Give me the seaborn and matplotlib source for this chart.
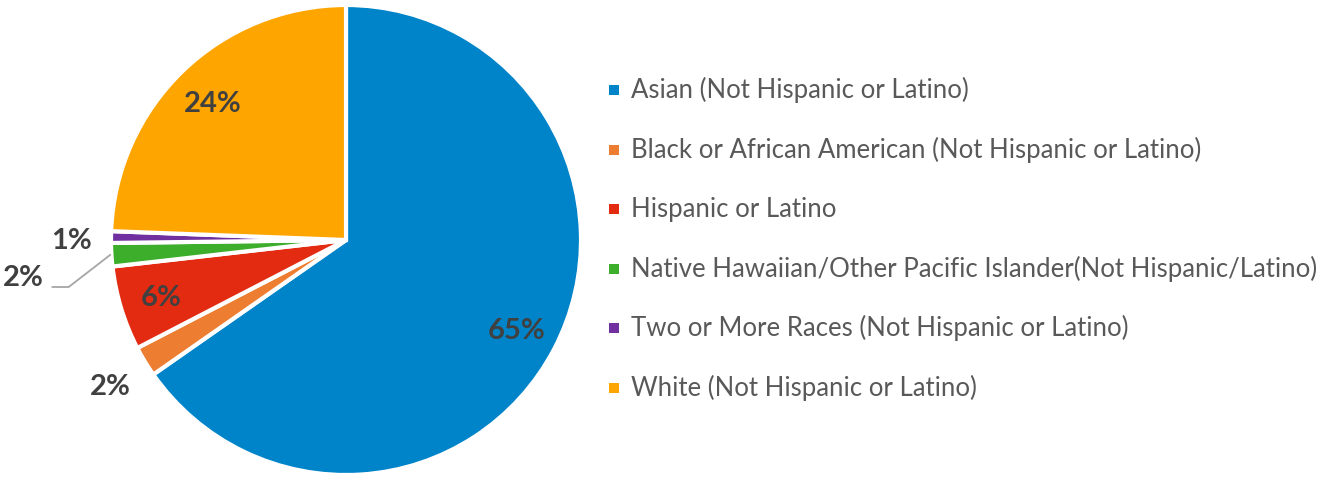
import numpy as np
import matplotlib
matplotlib.use("Agg")
import matplotlib.pyplot as plt
from matplotlib.patches import Rectangle
import seaborn as sns

categories = [
    "Asian (Not Hispanic or Latino)",
    "Black or African American (Not Hispanic or Latino)",
    "Hispanic or Latino",
    "Native Hawaiian/Other Pacific Islander(Not Hispanic/Latino)",
    "Two or More Races (Not Hispanic or Latino)",
    "White (Not Hispanic or Latino)",
]
values = [65.3, 2.1, 5.8, 1.6, 0.8, 24.4]
colors = ["#0084C9", "#ED7D31", "#E32B12", "#3DAE2B", "#7030A0", "#FFA500"]

sns.set_theme(style="white")
plt.rcParams["font.family"] = ["Lato", "DejaVu Sans"]

W, H = 1323, 479
fig = plt.figure(figsize=(W / 100, H / 100), dpi=100)
cx, cy, R = 346, 240, 235
ax = fig.add_axes([(cx - R) / W, (H - cy - R) / H, 2 * R / W, 2 * R / H])
palette = sns.color_palette(colors)
wedges, _ = ax.pie(values, colors=palette, startangle=90, counterclock=False,
                   radius=1.0, wedgeprops=dict(edgecolor="white", linewidth=3))
ax.set_xlim(-1, 1)
ax.set_ylim(-1, 1)
ax.set_aspect("equal")
ax.axis("off")

lab_color = "#404040"
fs = 21
for i, w in enumerate(wedges):
    mid = np.deg2rad((w.theta1 + w.theta2) / 2)
    txt = f"{round(values[i])}%"
    if values[i] >= 5:
        r = 0.82
        ax.text(r * np.cos(mid), r * np.sin(mid) - 0.01, txt, ha="center", va="center",
                fontsize=fs, fontweight="bold", color=lab_color)
    elif i == 3:
        ex, ey = np.cos(mid) * 1.005, np.sin(mid) * 1.005
        ax.plot([ex, -1.18, -1.25], [ey, -0.2, -0.2], color="#A6A6A6", lw=1.3,
                clip_on=False)
        ax.text(-1.285, -0.16, txt, ha="right", va="center", fontsize=fs,
                fontweight="bold", color=lab_color)
    else:
        r = 1.17
        ax.text(r * np.cos(mid), r * np.sin(mid) - 0.02, txt, ha="center", va="center",
                fontsize=fs, fontweight="bold", color=lab_color)

# legend
y0, dy = 90, 59.6
for i, (cat, c) in enumerate(zip(categories, colors)):
    y = y0 + i * dy
    fig.add_artist(Rectangle(((614 - 5) / W, (H - y - 5) / H), 10 / W, 10 / H,
                             transform=fig.transFigure, facecolor=c, edgecolor="none"))
    fig.text(631 / W, (H - y) / H, cat, ha="left", va="center", fontsize=18.5,
             color="#595959")

fig.savefig("out.png", dpi=100)
